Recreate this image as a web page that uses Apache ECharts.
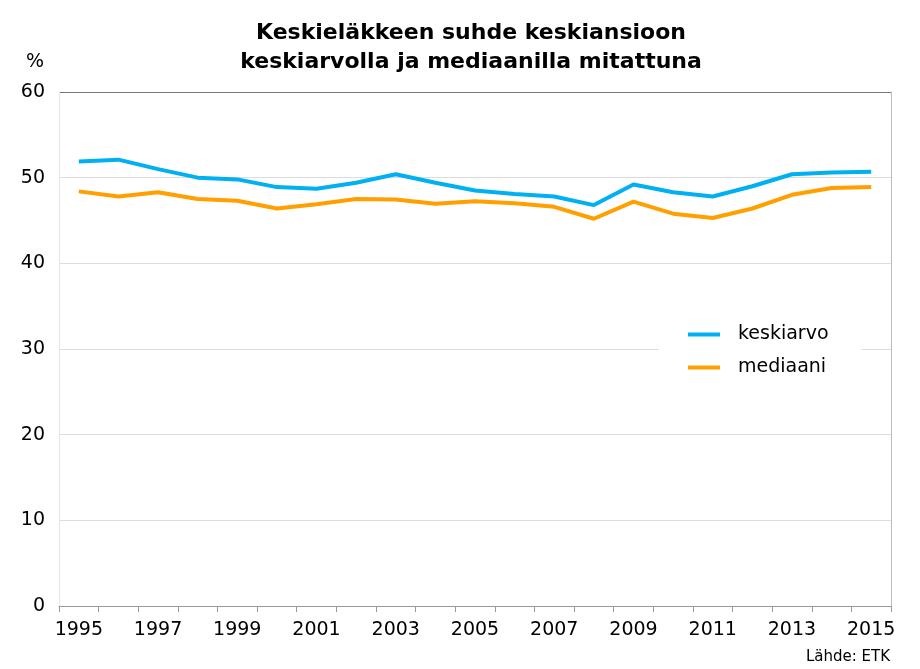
<!DOCTYPE html>
<html>
<head>
<meta charset="utf-8">
<script src="https://cdn.jsdelivr.net/npm/echarts@6/dist/echarts.min.js"></script>
<style>
html,body{margin:0;padding:0;background:#fff;}
#chart{width:920px;height:669px;}
</style>
</head>
<body>
<div id="chart"></div>
<script>
var years = ['1995','1996','1997','1998','1999','2000','2001','2002','2003','2004','2005','2006','2007','2008','2009','2010','2011','2012','2013','2014','2015'];
var keskiarvo = [51.9,52.1,51.0,50.0,49.8,48.9,48.7,49.4,50.4,49.4,48.5,48.1,47.8,46.8,49.2,48.3,47.8,49.0,50.4,50.6,50.7];
var mediaani = [48.4,47.8,48.3,47.5,47.3,46.4,46.9,47.5,47.45,46.95,47.25,47.0,46.6,45.2,47.2,45.8,45.3,46.4,48.0,48.8,48.9];
var yTicks = [0,10,20,30,40,50,60];
var titleText = 'Keskieläkkeen suhde keskiansioon\nkeskiarvolla ja mediaanilla mitattuna';
var unitText = '%';
var sourceText = 'Lähde: ETK';

var FONT = 'DejaVu Sans';
var chart = echarts.init(document.getElementById('chart'), null, {renderer:'canvas'});
chart.setOption({
  animation: false,
  backgroundColor: '#fff',
  graphic: [
    {type:'text', x:471, y:19, style:{text:titleText, font:'bold 22px "DejaVu Sans"', textAlign:'center', fill:'#000', lineHeight:29}},
    {type:'text', x:35, y:53, style:{text:unitText, font:'19px "DejaVu Sans"', textAlign:'center', fill:'#000'}},
    {type:'text', x:890, y:650, style:{text:sourceText, font:'15px "DejaVu Sans"', textAlign:'right', fill:'#000'}}
  ],
  grid: {left:59, right:29, top:92, bottom:63, containLabel:false},
  legend: {
    orient:'vertical', left:659, top:317,
    backgroundColor:'#fff', padding:[8,33,8,29],
    itemWidth:32, itemHeight:4, itemGap:14, icon:'rect',
    textStyle:{fontFamily:FONT, fontSize:19, color:'#000', padding:[0,0,0,13]},
    data:['keskiarvo','mediaani']
  },
  xAxis: {
    type:'category', data: years, boundaryGap:true,
    axisLine:{show:true, lineStyle:{color:'#999', width:1}},
    axisTick:{show:true, interval:0, length:6, lineStyle:{color:'#999'}},
    axisLabel:{interval:1, fontFamily:FONT, fontSize:19, color:'#000', margin:15},
    splitLine:{show:false}
  },
  yAxis: [
    {
      type:'value', min:0, max:60, interval:10,
      axisLine:{show:true, lineStyle:{color:'#e6e6e6'}},
      axisTick:{show:false},
      axisLabel:{fontFamily:FONT, fontSize:19, color:'#000', margin:14},
      splitLine:{show:true, lineStyle:{color:['#dcdcdc','#dcdcdc','#dcdcdc','#dcdcdc','#dcdcdc','#dcdcdc','#777'], width:1}}
    },
    {
      type:'value', min:0, max:60, interval:10, position:'right',
      axisLine:{show:true, lineStyle:{color:'#bbb'}},
      axisTick:{show:false}, axisLabel:{show:false}, splitLine:{show:false}
    }
  ],
  series: [
    {name:'keskiarvo', type:'line', data:keskiarvo, symbol:'none', smooth:false, color:'#00b0f0', lineStyle:{width:4, color:'#00b0f0'}, z:3},
    {name:'mediaani', type:'line', data:mediaani, symbol:'none', smooth:false, color:'#ffa000', lineStyle:{width:4, color:'#ffa000'}, z:2}
  ]
});
</script>
</body>
</html>
